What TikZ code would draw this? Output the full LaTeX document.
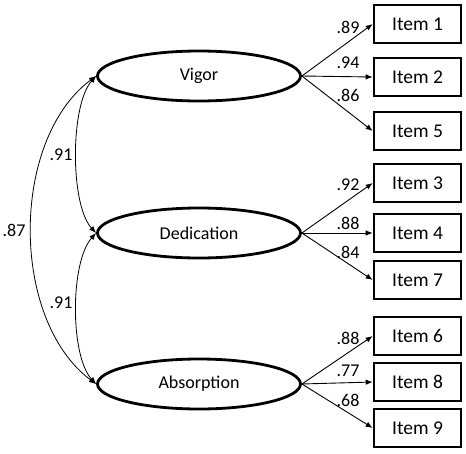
\documentclass[tikz,border=0pt]{standalone}
\usepackage{fontspec}
\setmainfont{Carlito}
\usetikzlibrary{shapes.geometric,arrows.meta}
\begin{document}
\begin{tikzpicture}[x=1pt,y=-1pt,
 lat/.style={draw, ellipse, line width=2.8pt, minimum width=203pt, minimum height=50pt, inner sep=0pt, font=\fontsize{18}{21}\selectfont},
 item/.style={draw, rectangle, line width=2.6pt, minimum width=87pt, minimum height=38pt, inner sep=0pt, font=\fontsize{19.5}{22}\selectfont},
 load/.style={-{Latex[length=7pt,width=5.5pt]}, line width=0.9pt},
 cov/.style={{Latex[length=7pt,width=5.5pt]}-{Latex[length=7pt,width=5.5pt]}, line width=0.8pt},
 lbl/.style={font=\fontsize{18}{21}\selectfont, inner sep=0pt}]
\useasboundingbox (0,0) rectangle (466,453);
% latent factors
\node[lat] (vig) at (199,76) {Vigor};
\node[lat] (ded) at (199,233) {Dedication};
\node[lat] (abs) at (199,384) {Absorption};
% items
\node[item] (i1) at (417.5,24) {Item 1};
\node[item] (i2) at (417.5,77) {Item 2};
\node[item] (i5) at (417.5,131) {Item 5};
\node[item] (i3) at (417.5,183) {Item 3};
\node[item] (i4) at (417.5,233) {Item 4};
\node[item] (i7) at (417.5,280) {Item 7};
\node[item] (i6) at (417.5,336) {Item 6};
\node[item] (i8) at (417.5,382) {Item 8};
\node[item] (i9) at (417.5,428) {Item 9};
% loadings
\draw[load] (vig.east) -- (i1.west);
\draw[load] (vig.east) -- (i2.west);
\draw[load] (vig.east) -- (i5.west);
\draw[load] (ded.east) -- (i3.west);
\draw[load] (ded.east) -- (i4.west);
\draw[load] (ded.east) -- (i7.west);
\draw[load] (abs.east) -- (i6.west);
\draw[load] (abs.east) -- (i8.west);
\draw[load] (abs.east) -- (i9.west);
\node[lbl] (l1) at (348,27) {.89};
\node[lbl] (l2) at (348,63) {.94};
\node[lbl] (l5) at (348,95) {.86};
\node[lbl] (l3) at (348,185) {.92};
\node[lbl] (l4) at (348,223) {.88};
\node[lbl] (l7) at (348,252) {.84};
\node[lbl] (l6) at (348,338) {.88};
\node[lbl] (l8) at (348,371) {.77};
\node[lbl] (l9) at (348,400) {.68};
% covariances
\draw[cov] (vig.west) .. controls (70,105) and (70,205) .. (ded.west);
\draw[cov] (ded.west) .. controls (70,262) and (70,356) .. (abs.west);
\draw[cov] (vig.west) .. controls (10,140) and (10,320) .. (abs.west);
\node[lbl] (c1) at (61,155) {.91};
\node[lbl] (c2) at (61,303) {.91};
\node[lbl] (c3) at (14,230) {.87};
\end{tikzpicture}
\end{document}
